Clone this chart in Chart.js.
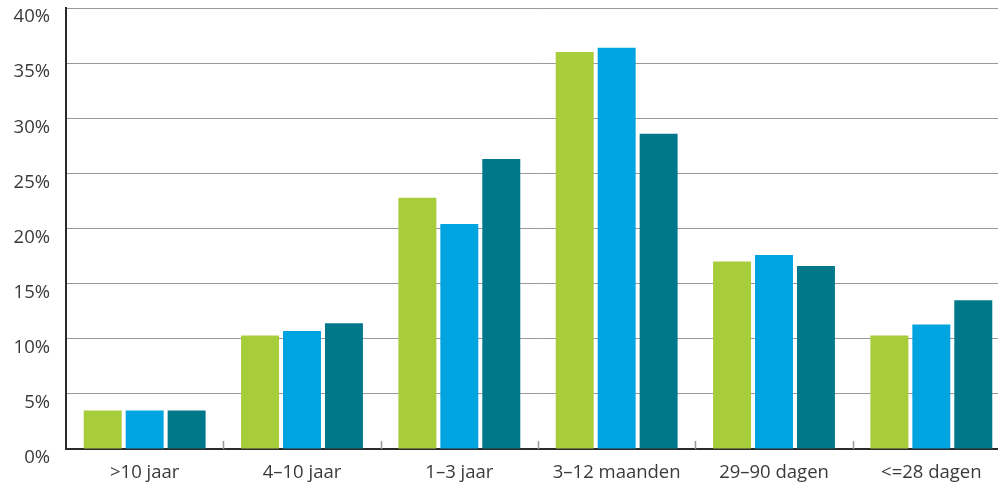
<!DOCTYPE html>
<html>
<head>
<meta charset="utf-8">
<script src="https://cdn.jsdelivr.net/npm/chart.js@4/dist/chart.umd.min.js"></script>
<style>
  html, body { margin: 0; padding: 0; background: #fff; overflow: hidden; }
  #wrap { width: 1010px; height: 483px; position: relative; }
</style>
</head>
<body>
<div id="wrap"><canvas id="chart"></canvas></div>
<script>
const categories = ['>10 jaar', '4\u201310 jaar', '1\u20133 jaar', '3\u201312 maanden', '29\u201390 dagen', '<=28 dagen'];
const seriesA = [3.5, 10.3, 22.8, 36.0, 17.0, 10.3];
const seriesB = [3.5, 10.7, 20.4, 36.4, 17.6, 11.3];
const seriesC = [3.5, 11.4, 26.3, 28.6, 16.6, 13.5];
const yTicks = [0, 5, 10, 15, 20, 25, 30, 35, 40];

// small tick marks between the groups, drawn inside the plot area
const innerTicks = {
  id: 'innerTicks',
  afterDraw(chart) {
    const x = chart.scales.x;
    const ctx = chart.ctx;
    const bottom = chart.chartArea.bottom;
    ctx.save();
    ctx.strokeStyle = '#9a9a9a';
    ctx.lineWidth = 1.5;
    for (let i = 1; i < categories.length; i++) {
      const px = Math.round((x.getPixelForTick(i - 1) + x.getPixelForTick(i)) / 2) + 0.5;
      ctx.beginPath();
      ctx.moveTo(px, bottom - 8);
      ctx.lineTo(px, bottom);
      ctx.stroke();
    }
    ctx.restore();
  }
};

new Chart(document.getElementById('chart'), {
  type: 'bar',
  data: {
    labels: categories,
    datasets: [
      { data: seriesA, backgroundColor: '#a8cd3a' },
      { data: seriesB, backgroundColor: '#00a4e1' },
      { data: seriesC, backgroundColor: '#00788a' }
    ]
  },
  options: {
    responsive: true,
    maintainAspectRatio: false,
    animation: false,
    layout: { padding: { top: 8, right: 0, left: 0, bottom: 0 } },
    datasets: { bar: { categoryPercentage: 0.8, barPercentage: 0.905 } },
    plugins: { legend: { display: false }, tooltip: { enabled: false } },
    scales: {
      x: {
        grid: { display: false },
        border: { color: '#2b2b2b', width: 2 },
        ticks: { color: '#3a3a3a', padding: 5, font: { family: 'Open Sans', size: 18.5 }, maxRotation: 0 },
        afterFit(scale) { scale.height = 34; scale.paddingLeft = 0; scale.paddingRight = 0; }
      },
      y: {
        min: 0,
        max: 40,
        afterBuildTicks(scale) { scale.ticks = yTicks.map(v => ({ value: v })); },
        grid: { color: '#999', lineWidth: 1, drawTicks: false },
        border: { color: '#2b2b2b', width: 2 },
        ticks: {
          color: '#3a3a3a',
          padding: 16,
          labelOffset: 9,
          font: { family: 'Open Sans', size: 18.5 },
          callback: v => v + '%'
        },
        afterFit(scale) { scale.width = 66; scale.paddingTop = 0; scale.paddingBottom = 0; }
      }
    }
  },
  plugins: [innerTicks]
});
</script>
</body>
</html>
